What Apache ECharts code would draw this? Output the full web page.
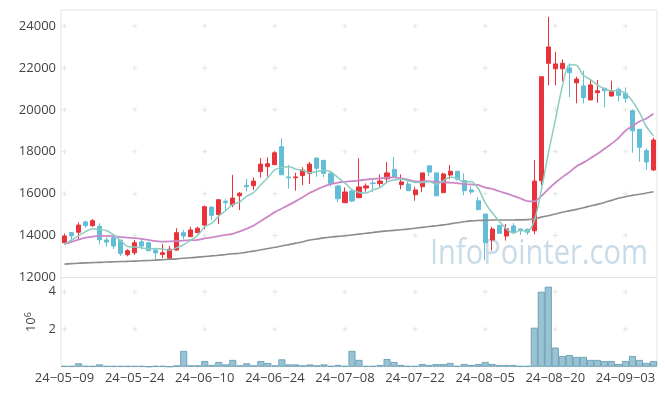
<!DOCTYPE html>
<html>
<head>
<meta charset="utf-8">
<script src="https://cdn.jsdelivr.net/npm/echarts@6/dist/echarts.min.js"></script>
<style>
html,body{margin:0;padding:0;background:#fff;}
#chart{width:665px;height:396px;}
</style>
</head>
<body>
<div id="chart"></div>
<script>
const dates = [
'24-05-09','24-05-10','24-05-13','24-05-14','24-05-16','24-05-17','24-05-20','24-05-21','24-05-22','24-05-23','24-05-24','24-05-27','24-05-28','24-05-29','24-05-30','24-05-31',
'24-06-03','24-06-04','24-06-05','24-06-07','24-06-10','24-06-11','24-06-12','24-06-13','24-06-14','24-06-17','24-06-18','24-06-19','24-06-20','24-06-21','24-06-24','24-06-25','24-06-26','24-06-27','24-06-28',
'24-07-01','24-07-02','24-07-03','24-07-04','24-07-05','24-07-08','24-07-09','24-07-10','24-07-11','24-07-12','24-07-15','24-07-16','24-07-17','24-07-18','24-07-19','24-07-22','24-07-23','24-07-24','24-07-25','24-07-26','24-07-29','24-07-30','24-07-31',
'24-08-01','24-08-02','24-08-05','24-08-06','24-08-07','24-08-08','24-08-09','24-08-12','24-08-13','24-08-14','24-08-16','24-08-19','24-08-20','24-08-21','24-08-22','24-08-23','24-08-26','24-08-27','24-08-28','24-08-29','24-08-30',
'24-09-02','24-09-03','24-09-04','24-09-05','24-09-06','24-09-09'];

const open  = [13660,14140,14160,14650,14470,14440,13790,13900,13780,13090,13180,13700,13660,13310,13100,12920,13310,14140,13950,14140,14500,15360,15000,15640,15470,15900,16400,16380,17050,17290,17380,18240,16800,16760,16860,16970,17700,17590,16970,16370,15570,16130,15810,16270,16510,16480,16710,17160,16430,16460,15950,16330,17330,16990,16050,16890,17070,16620,16180,15660,15030,13790,14490,13980,14460,14310,14300,14230,16620,22220,21960,21960,22000,21290,21140,20470,20820,21030,20660,20980,20790,19960,19070,18050,17130];
const close = [13980,13990,14500,14470,14710,13800,13690,13500,13140,13280,13660,13500,13280,13170,13180,13350,14140,13980,14270,14350,15380,14970,15710,15570,15790,16020,16330,16600,17410,17430,17950,16900,16760,16800,17130,17410,17210,16970,16490,15760,16080,15650,16320,16370,16480,16600,16990,16810,16560,16140,16180,16990,17030,15900,16940,17070,16690,16140,16080,15250,13660,14310,14110,14330,14190,14250,14160,16600,21580,23000,22190,22220,21770,21470,20580,21190,20910,20910,20900,20690,20550,19000,18210,17510,18560];
const low   = [13630,13660,13820,14380,14420,13580,13470,13360,13030,13010,13070,13350,13250,12870,12920,12870,13300,13820,13930,14110,14300,14740,14550,15220,15350,15220,16110,16170,16760,16810,17370,16890,16240,16140,16410,16460,16800,16780,16330,15600,15550,15600,15790,16090,16070,16330,16490,16780,16210,16140,15660,16070,16840,15890,16020,16690,16620,15920,15980,15190,12840,13280,14080,13760,14080,14030,14040,14060,16410,21170,21170,21360,20600,20310,20310,20470,20340,20120,20630,20390,20340,17950,17530,17130,17100];
const high  = [14090,14170,14630,14710,14790,14590,13920,14030,13810,13350,13790,13860,13700,13340,13600,13500,14350,14270,14420,14420,15430,15380,15720,15730,16900,16080,16710,16780,17700,17730,18020,18640,17380,17000,17260,17510,17700,17600,17100,16410,16300,16180,17690,16490,16650,16920,17510,17740,16920,16590,16330,16990,17330,16990,17000,17370,17080,16970,16370,15830,15030,14420,14510,14550,14590,14330,14330,17610,21580,24440,22770,22410,22220,21580,21870,21420,21420,21040,21390,21070,21070,20030,19090,18160,18670];

const ma5  = [13590,13790,14000,14190,14330,14294,14234,14034,13768,13482,13454,13416,13372,13378,13358,13296,13424,13564,13784,14018,14424,14590,14936,15196,15484,15612,15884,16062,16430,16758,17144,17258,17290,17168,17108,17000,17062,17104,17042,16768,16502,16190,16060,16036,16180,16284,16552,16650,16688,16620,16536,16536,16580,16448,16608,16786,16726,16548,16584,16246,15564,15088,14682,14332,14120,14238,14208,14706,16156,17918,19506,21118,22152,22130,21646,21446,21184,21012,20898,20920,20792,20410,19870,19192,18766];
const ma20 = [13590,13700,13810,13900,13950,13990,13990,13970,13930,13900,13880,13840,13790,13740,13710,13720,13740,13760,13780,13797,13867,13916,13977,14032,14086,14197,14329,14484,14697,14905,15119,15289,15463,15645,15842,16045,16199,16348,16459,16530,16565,16599,16629,16669,16704,16733,16766,16776,16734,16669,16581,16585,16599,16554,16544,16527,16501,16460,16439,16414,16293,16226,16115,16013,15899,15781,15640,15629,15880,16220,16520,16790,17020,17300,17480,17690,17900,18140,18380,18650,19000,19230,19440,19590,19810];
const ma60 = [12640,12660,12680,12700,12710,12720,12740,12750,12760,12770,12780,12800,12810,12830,12850,12870,12890,12920,12940,12970,13000,13030,13060,13100,13130,13160,13210,13260,13320,13380,13440,13500,13570,13640,13710,13790,13840,13890,13930,13960,13990,14030,14070,14110,14150,14190,14220,14250,14280,14310,14350,14390,14430,14470,14510,14560,14610,14660,14700,14720,14730,14740,14740,14740,14745,14750,14760,14790,14880,14950,15030,15110,15180,15250,15330,15410,15490,15580,15680,15780,15850,15920,15970,16030,16090];

// volume in millions of shares
const volume = [0.04,0.04,0.18,0.04,0.04,0.12,0.04,0.04,0.04,0.04,0.04,0.04,0,0.04,0.04,0,0.07,0.84,0.07,0.07,0.30,0.09,0.25,0.12,0.36,0.07,0.18,0.07,0.30,0.20,0.07,0.39,0.12,0.12,0.07,0.12,0.07,0.12,0.04,0.09,0.04,0.84,0.36,0.04,0.04,0.09,0.41,0.25,0.09,0.04,0.04,0.14,0.09,0.14,0.14,0.20,0.04,0.14,0.09,0.14,0.25,0.14,0.09,0.09,0.09,0.04,0.04,2.08,4.00,4.27,1.02,0.57,0.62,0.52,0.52,0.36,0.36,0.30,0.30,0.14,0.30,0.57,0.36,0.20,0.30];

const priceTicks = [14000,16000,18000,20000,22000,24000];
const volTicks = [2,4];
const labelDates = ['24-05-09','24-05-24','24-06-10','24-06-24','24-07-08','24-07-22','24-08-05','24-08-20','24-09-03'];

const candles = dates.map((d,i)=>[open[i],close[i],low[i],high[i]]);
const crossMain = [];
labelDates.forEach(d=>priceTicks.forEach(v=>crossMain.push([d,v])));
const crossVol = [];
labelDates.forEach(d=>volTicks.forEach(v=>crossVol.push([d,v])));

const FONT = '"Open Sans", "Noto Sans", sans-serif';
const crossSym = 'path://M0,2H5V3H0Z M2,0H3V5H2Z';

const chart = echarts.init(document.getElementById('chart'), null, {renderer:'canvas'});
chart.setOption({
  animation:false,
  backgroundColor:'#ffffff',
  textStyle:{fontFamily:FONT},
  graphic:[{
    type:'text', x:430, y:237, scaleX:0.855, z:0, silent:true,
    style:{text:'InfoPointer.com', fontFamily:FONT, fontSize:34, fill:'#c8dbe7'}
  }],
  grid:[
    {left:61, right:8, top:10, height:267.5, show:true, borderColor:'#e4e4e4', borderWidth:1, z:1},
    {left:61, right:8, top:277.5, height:89.2, show:true, borderColor:'#e4e4e4', borderWidth:1, z:1}
  ],
  xAxis:[
    {type:'category', gridIndex:0, data:dates, boundaryGap:true,
     axisLine:{show:false}, axisTick:{show:false}, axisLabel:{show:false}, splitLine:{show:false}},
    {type:'category', gridIndex:1, data:dates, boundaryGap:true,
     axisLine:{show:false}, axisTick:{show:false}, splitLine:{show:false},
     axisLabel:{interval:9, color:'#444', fontSize:13, fontFamily:FONT, margin:5,
       formatter:v=>v.replace(/-/g,'\u2212')}}
  ],
  yAxis:[
    {type:'value', gridIndex:0, min:12000, max:24763, interval:2000,
     axisLine:{show:false}, axisTick:{show:false}, splitLine:{show:false},
     axisLabel:{color:'#444', fontSize:13, fontFamily:FONT, margin:5, showMaxLabel:false,
       formatter:v=>String(v)}},
    {type:'value', gridIndex:1, min:0, max:4.76, interval:2,
     axisLine:{show:false}, axisTick:{show:false}, splitLine:{show:false},
     axisLabel:{color:'#444', fontSize:13, fontFamily:FONT, margin:5, showMaxLabel:false,
       formatter:v=>v===0?'':String(v)},
     name:'{a|10}{b|6}', nameLocation:'middle', nameGap:18, nameRotate:90,
     nameTextStyle:{rich:{a:{fontSize:13, color:'#444', fontFamily:FONT}, b:{fontSize:9, color:'#444', fontFamily:FONT, verticalAlign:'top', padding:[0,0,6,0]}}}}
  ],
  series:[
    {type:'scatter', xAxisIndex:0, yAxisIndex:0, data:crossMain, symbol:crossSym, symbolSize:5,
     itemStyle:{color:'#dcdcdc'}, silent:true, z:1},
    {type:'scatter', xAxisIndex:1, yAxisIndex:1, data:crossVol, symbol:crossSym, symbolSize:5,
     itemStyle:{color:'#dcdcdc'}, silent:true, z:1},
    {type:'candlestick', name:'price', xAxisIndex:0, yAxisIndex:0, data:candles, barWidth:4.6,
     itemStyle:{color:'#e8333a', color0:'#62bdd6', borderColor:'#e8333a', borderColor0:'#62bdd6', borderWidth:1}, z:3},
    {type:'line', name:'MA60', xAxisIndex:0, yAxisIndex:0, data:ma60, showSymbol:false, smooth:0.3,
     lineStyle:{color:'#8c8c8c', width:1.6}, z:4},
    {type:'line', name:'MA20', xAxisIndex:0, yAxisIndex:0, data:ma20, showSymbol:false, smooth:0.3,
     lineStyle:{color:'#cc88c6', width:1.8}, z:4},
    {type:'line', name:'MA5', xAxisIndex:0, yAxisIndex:0, data:ma5, showSymbol:false, smooth:0.3,
     lineStyle:{color:'#8cccc1', width:1.5}, z:5},
    {type:'bar', name:'volume', xAxisIndex:1, yAxisIndex:1, data:volume, barWidth:'100%',
     itemStyle:{color:'#99c2d3', borderColor:'#5e98b0', borderWidth:0.8}, z:3}
  ]
});
</script>
</body>
</html>
